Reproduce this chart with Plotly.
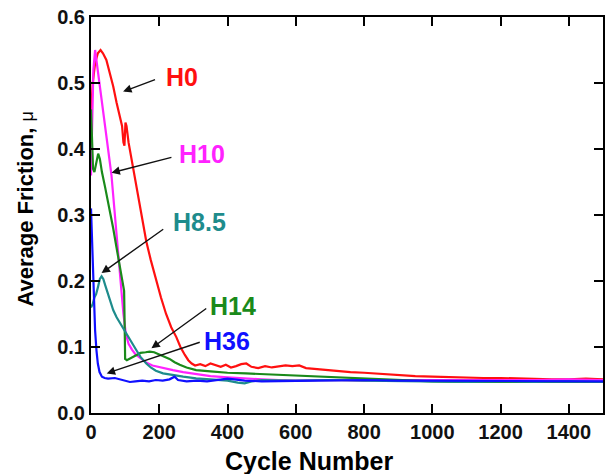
import plotly.graph_objects as go

# ---- data ----
h0_x = [0, 5, 12, 20, 28, 35, 45, 55, 65, 75, 85, 91, 95, 98, 101, 104, 110, 120, 130, 140, 150, 162, 175, 190, 205, 220, 235, 250, 262, 275, 285, 295, 305, 320, 335, 350, 365, 380, 395, 410, 425, 440, 455, 470, 490, 510, 530, 550, 570, 590, 610, 630, 650, 680, 700, 730, 760, 800, 850, 900, 950, 1000, 1050, 1100, 1150, 1200, 1250, 1300, 1350, 1400, 1450, 1500]
h0_y = [0.45, 0.50, 0.53, 0.545, 0.55, 0.545, 0.535, 0.515, 0.495, 0.47, 0.45, 0.435, 0.41, 0.405, 0.44, 0.435, 0.41, 0.38, 0.35, 0.32, 0.295, 0.26, 0.232, 0.203, 0.175, 0.15, 0.13, 0.115, 0.10, 0.088, 0.080, 0.075, 0.072, 0.074, 0.071, 0.075, 0.072, 0.070, 0.073, 0.069, 0.071, 0.074, 0.075, 0.070, 0.068, 0.071, 0.069, 0.070, 0.072, 0.071, 0.072, 0.068, 0.067, 0.065, 0.064, 0.063, 0.062, 0.061, 0.059, 0.058, 0.056, 0.055, 0.054, 0.054, 0.053, 0.053, 0.052, 0.052, 0.051, 0.051, 0.052, 0.051]

h10_x = [0, 3, 7, 12, 20, 30, 40, 50, 60, 70, 80, 88, 95, 102, 110, 120, 130, 145, 160, 180, 210, 240, 270, 310, 350, 400, 450, 500, 550, 600, 700, 800, 900, 1000, 1100, 1200, 1300, 1400, 1500]
h10_y = [0.36, 0.45, 0.52, 0.55, 0.52, 0.48, 0.44, 0.40, 0.36, 0.30, 0.24, 0.19, 0.15, 0.12, 0.105, 0.096, 0.089, 0.083, 0.077, 0.072, 0.068, 0.065, 0.062, 0.059, 0.056, 0.054, 0.052, 0.051, 0.050, 0.049, 0.050, 0.049, 0.050, 0.050, 0.049, 0.050, 0.050, 0.051, 0.050]

h14_x = [0, 3, 6, 10, 15, 21, 26, 32, 41, 50, 58, 65, 75, 85, 94, 97, 99, 100, 105, 115, 125, 135, 145, 160, 172, 185, 200, 215, 230, 245, 260, 280, 308, 350, 400, 454, 500, 550, 600, 648, 700, 750, 800, 850, 900, 950, 1000, 1100, 1200, 1300, 1400, 1500]
h14_y = [0.46, 0.42, 0.37, 0.365, 0.38, 0.393, 0.385, 0.365, 0.343, 0.32, 0.30, 0.28, 0.25, 0.222, 0.191, 0.185, 0.12, 0.082, 0.080, 0.083, 0.086, 0.089, 0.091, 0.092, 0.093, 0.092, 0.089, 0.086, 0.082, 0.077, 0.073, 0.069, 0.065, 0.063, 0.061, 0.060, 0.059, 0.057, 0.056, 0.055, 0.054, 0.053, 0.052, 0.051, 0.050, 0.049, 0.048, 0.047, 0.047, 0.046, 0.047, 0.047]

h85_x = [0, 5, 10, 15, 20, 26, 31, 36, 42, 46, 55, 65, 75, 85, 95, 104, 115, 125, 133, 145, 155, 162, 175, 190, 211, 240, 270, 308, 350, 400, 430, 450, 470, 500, 600, 700, 800, 900, 1000, 1100, 1200, 1300, 1400, 1500]
h85_y = [0.16, 0.165, 0.175, 0.18, 0.19, 0.203, 0.207, 0.203, 0.193, 0.186, 0.17, 0.156, 0.145, 0.136, 0.128, 0.121, 0.11, 0.101, 0.095, 0.085, 0.078, 0.075, 0.069, 0.064, 0.060, 0.057, 0.055, 0.0525, 0.051, 0.049, 0.046, 0.045, 0.048, 0.050, 0.049, 0.050, 0.049, 0.048, 0.048, 0.047, 0.048, 0.047, 0.048, 0.047]

h36_x = [0, 4, 8, 12, 16, 20, 25, 32, 40, 50, 70, 90, 114, 130, 150, 170, 190, 210, 230, 245, 255, 280, 310, 340, 370, 400, 420, 450, 500, 600, 700, 800, 900, 1000, 1100, 1200, 1300, 1400, 1500]
h36_y = [0.31, 0.25, 0.18, 0.125, 0.095, 0.075, 0.062, 0.055, 0.053, 0.052, 0.053, 0.050, 0.047, 0.048, 0.049, 0.048, 0.050, 0.049, 0.051, 0.055, 0.050, 0.048, 0.049, 0.048, 0.050, 0.052, 0.051, 0.049, 0.048, 0.049, 0.049, 0.050, 0.049, 0.049, 0.048, 0.049, 0.049, 0.048, 0.048]

labels = ["H0", "H10", "H8.5", "H14", "H36"]
x_ticks = [0, 200, 400, 600, 800, 1000, 1200, 1400]
y_ticks = [0.0, 0.1, 0.2, 0.3, 0.4, 0.5, 0.6]

series = [
    (h0_x, h0_y, "#ff1010"),
    (h10_x, h10_y, "#ff22ff"),
    (h14_x, h14_y, "#1a8a1a"),
    (h85_x, h85_y, "#1e8c8c"),
    (h36_x, h36_y, "#1010ff"),
]

label_pos = {"H0": (267, 0.5095), "H10": (326, 0.392), "H8.5": (318, 0.289), "H14": (417, 0.162), "H36": (398, 0.109)}
label_col = {"H0": "#ff1010", "H10": "#ff22ff", "H8.5": "#1e8c8c", "H14": "#1a8a1a", "H36": "#1010ff"}
arrow_tail = {"H0": (192, 0.506), "H10": (240, 0.388), "H8.5": (216, 0.280), "H14": (342, 0.160), "H36": (323, 0.108)}
arrow_head = {"H0": (94, 0.487), "H10": (60, 0.364), "H8.5": (31, 0.212), "H14": (177, 0.098), "H36": (46, 0.060)}

FONT = "Liberation Sans, Arial, sans-serif"

fig = go.Figure()
for xs, ys, c in series:
    fig.add_trace(go.Scatter(x=xs, y=ys, mode="lines", line=dict(color=c, width=2.2), showlegend=False))

ann = []
for lab in labels:
    lx, ly = label_pos[lab]
    ann.append(dict(x=lx, y=ly, xref="x", yref="y", text="<b>%s</b>" % lab, showarrow=False,
                    font=dict(family=FONT, size=25, color=label_col[lab]), xanchor="center", yanchor="middle"))
    tx, ty = arrow_tail[lab]
    hx, hy = arrow_head[lab]
    ann.append(dict(x=hx, y=hy, ax=tx, ay=ty, xref="x", yref="y", axref="x", ayref="y", text="",
                    showarrow=True, arrowhead=2, arrowsize=1.2, arrowwidth=1.4, arrowcolor="#111"))

ann.append(dict(x=-0.128, y=0.515, xref="paper", yref="paper", textangle=-90,
                text="<b>Average Friction, </b><span style='font-size:18px'>μ</span>", showarrow=False,
                font=dict(family=FONT, size=22, color="black"), xanchor="center", yanchor="middle"))
ann.append(dict(x=0.426, y=-0.12, xref="paper", yref="paper",
                text="<b>Cycle Number</b>", showarrow=False,
                font=dict(family=FONT, size=25, color="black"), xanchor="center", yanchor="middle"))

x_step = x_ticks[1] - x_ticks[0]
y_step = y_ticks[1] - y_ticks[0]

fig.update_layout(
    width=610, height=474,
    margin=dict(l=91, r=5, t=17, b=61),
    paper_bgcolor="white", plot_bgcolor="white",
    annotations=ann,
)
fig.update_xaxes(range=[0, 1500], tickmode="linear", tick0=x_ticks[0], dtick=x_step,
                 showline=True, linecolor="black", linewidth=2, mirror="ticks", ticks="inside",
                 ticklen=9, tickwidth=2, tickcolor="#000000", showgrid=False, zeroline=False,
                 tickfont=dict(family=FONT, size=20, color="#111111"))
fig.update_yaxes(range=[0, 0.6], tickmode="linear", tick0=y_ticks[0], dtick=y_step, tickformat=".1f",
                 showline=True, linecolor="black", linewidth=2, mirror="ticks", ticks="inside",
                 ticklen=9, tickwidth=2, tickcolor="#000000", showgrid=False, zeroline=False,
                 tickfont=dict(family=FONT, size=20, color="#111111"))
fig.update_xaxes(tickprefix="<b>", ticksuffix="</b>")
fig.update_yaxes(tickprefix="<b>", ticksuffix="</b>")

fig.write_html("out.html")
